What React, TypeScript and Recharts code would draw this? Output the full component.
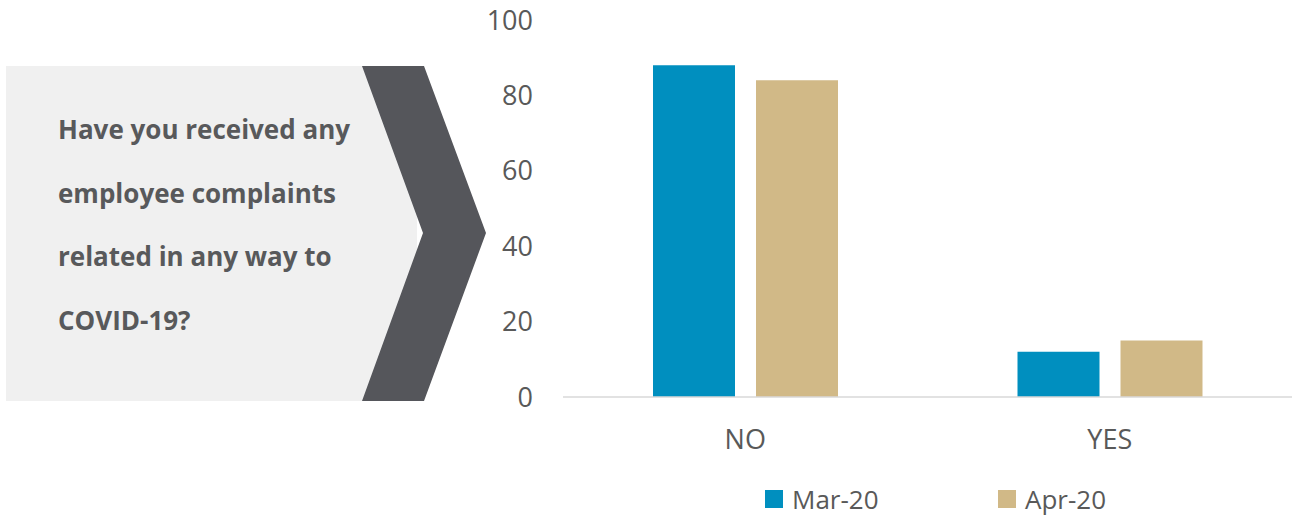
import React from 'react';
import { BarChart, Bar, XAxis, YAxis, Legend } from 'recharts';

const categories = ['NO', 'YES'];
const mar20 = [88, 12];
const apr20 = [84, 15];
const yTicks = [0, 20, 40, 60, 80, 100];
const seriesNames = ['Mar-20', 'Apr-20'];
const questionLines = [
  'Have you received any',
  'employee complaints',
  'related in any way to',
  'COVID-19?',
];

const data = categories.map((c, i) => ({ name: c, mar: mar20[i], apr: apr20[i] }));

const BLUE = '#008fbf';
const TAN = '#d1b987';
const TEXT = '#595959';
const legendLeft = [765, 998];

const renderLegend = (props: any) => {
  const payload = [...(props.payload || [])].sort(
    (a: any, b: any) => seriesNames.indexOf(a.value) - seriesNames.indexOf(b.value)
  );
  return (
    <div style={{ position: 'relative', height: 36 }}>
      {payload.map((p: any, i: number) => (
        <div
          key={p.value}
          style={{
            position: 'absolute',
            left: legendLeft[i],
            top: 0,
            display: 'flex',
            alignItems: 'center',
            height: 36,
          }}
        >
          <span style={{ display: 'inline-block', width: 18, height: 18, background: p.color, marginRight: 9 }} />
          <span style={{ fontFamily: 'Open Sans', fontSize: 26, lineHeight: '36px', color: TEXT }}>{p.value}</span>
        </div>
      ))}
    </div>
  );
};

export default function App() {
  return (
    <div style={{ position: 'fixed', left: 0, top: 0, width: 1298, height: 517, background: '#fff' }}>
      <svg width={1298} height={517} style={{ position: 'absolute', left: 0, top: 0 }}>
        <rect x={6} y={66} width={411} height={335} fill="#f0f0f0" />
        <polygon points="362,66 424,66 486,233 424,401 362,401 423,233" fill="#55565b" />
      </svg>
      <div
        style={{
          position: 'absolute',
          left: 58,
          top: 98,
          fontFamily: 'Open Sans',
          fontWeight: 700,
          fontSize: 26,
          lineHeight: '63.5px',
          color: '#58595b',
          whiteSpace: 'nowrap',
        }}
      >
        {questionLines.map((l) => (
          <div key={l}>{l}</div>
        ))}
      </div>
      <div style={{ position: 'absolute', left: 0, top: 0 }}>
        <BarChart
          width={1298}
          height={517}
          data={data}
          margin={{ top: 20, right: 6, bottom: 0, left: 0 }}
          barGap={21}
        >
          <XAxis
            dataKey="name"
            axisLine={{ stroke: '#d9d9d9', strokeWidth: 1.5 }}
            tickLine={false}
            tickSize={0}
            tickMargin={33}
            height={84}
            tick={{ fill: TEXT, fontSize: 27, fontFamily: 'Open Sans' }}
          />
          <YAxis
            domain={[0, 100]}
            ticks={yTicks}
            axisLine={false}
            tickLine={false}
            tickSize={0}
            tickMargin={30}
            width={563}
            tick={{ fill: TEXT, fontSize: 27, fontFamily: 'Open Sans' }}
          />
          <Legend
            content={renderLegend}
            wrapperStyle={{ position: 'absolute', left: 0, top: 481, width: 1298, height: 36 }}
          />
          <Bar dataKey="mar" name={seriesNames[0]} fill={BLUE} barSize={82} isAnimationActive={false} />
          <Bar dataKey="apr" name={seriesNames[1]} fill={TAN} barSize={82} isAnimationActive={false} />
        </BarChart>
      </div>
    </div>
  );
}
